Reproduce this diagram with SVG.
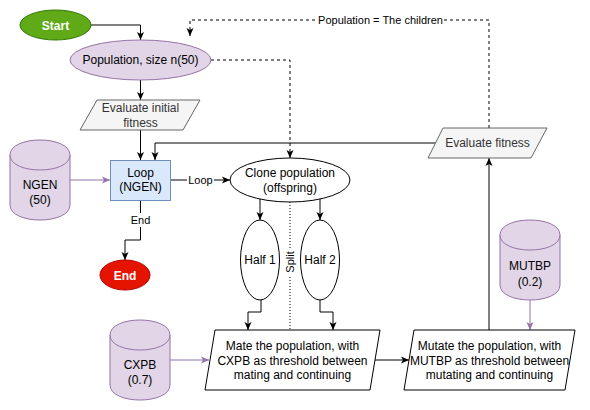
<svg xmlns="http://www.w3.org/2000/svg" width="590" height="410" viewBox="0 0 590 410">
<style>
text{font-family:"Liberation Sans",Arial,sans-serif;font-size:12px;fill:#000;text-anchor:middle}
.lbl{font-size:11px}
.gr{fill:#333}
.wb{fill:#fff;font-weight:bold}
.purp{fill:#e1d5e7;stroke:#9673a6;stroke-width:1}
.io{fill:#f5f5f5;stroke:#666;stroke-width:1}
.plain{fill:#fff;stroke:#000;stroke-width:1}
.e{fill:none;stroke:#000;stroke-width:1}
.ep{fill:none;stroke:#9673a6;stroke-width:1}
.dash{stroke-dasharray:3 3}
.dot{stroke-dasharray:1 2}
.bg{fill:#fff}
</style>
<defs>
<marker id="a" markerUnits="userSpaceOnUse" markerWidth="8" markerHeight="8" viewBox="0 0 8 8" refX="8" refY="4" orient="auto"><path d="M0,0.5 L8,4 L0,7.5 L2,4 Z" fill="#000"/></marker>
<marker id="ap" markerUnits="userSpaceOnUse" markerWidth="8" markerHeight="8" viewBox="0 0 8 8" refX="8" refY="4" orient="auto"><path d="M0,0.5 L8,4 L0,7.5 L2,4 Z" fill="#9673a6"/></marker>
</defs>
<g id="connectors">
<path class="e" d="M91,25 H140.5 V40" marker-end="url(#a)"/>
<path class="e" d="M140.5,80 V100" marker-end="url(#a)"/>
<path class="e" d="M140.5,130 V160" marker-end="url(#a)"/>
<path class="e" d="M436,143 H155 V160" marker-end="url(#a)"/>
<path class="ep" d="M70,180 H110" marker-end="url(#ap)"/>
<path class="e" d="M170,180 H230" marker-end="url(#a)"/>
<rect class="bg" x="187" y="173" width="27" height="14"/>
<text class="lbl" x="200.5" y="184">Loop</text>
<path class="e dash" d="M211,60 H290 V158" marker-end="url(#a)"/>
<path class="e" d="M140.5,200 V240 H125 V260" marker-end="url(#a)"/>
<rect class="bg" x="130" y="213" width="21" height="14"/>
<text class="lbl" x="140.5" y="224">End</text>
<path class="e" d="M260,199 V220" marker-end="url(#a)"/>
<path class="e" d="M320,199 V220" marker-end="url(#a)"/>
<path class="e dot" d="M290,202 V330"/>
<rect class="bg" x="283" y="248" width="14" height="28"/>
<text class="lbl" transform="translate(294,262) rotate(-90)" x="0" y="0">Split</text>
<path class="e" d="M261,300 V312 H248 V330" marker-end="url(#a)"/>
<path class="e" d="M320,300 V312 H333 V330" marker-end="url(#a)"/>
<path class="ep" d="M170,360 H209" marker-end="url(#ap)"/>
<path class="e" d="M375,360 H409" marker-end="url(#a)"/>
<path class="ep" d="M530,300 V330" marker-end="url(#ap)"/>
<path class="e" d="M489,330 V158" marker-end="url(#a)"/>
<path class="e dash" d="M489,128 V20 H190 V36" marker-end="url(#a)"/>
<rect class="bg" x="317" y="13" width="127" height="14"/>
<text class="lbl" x="380.5" y="24">Population = The children</text>
</g>
<g id="start">
<ellipse cx="55.5" cy="25" rx="35.5" ry="15" fill="#60a917" stroke="#2d7600"/>
<text class="wb" x="55.5" y="29.5">Start</text>
</g>
<g id="population">
<ellipse class="purp" cx="140.5" cy="60" rx="70.5" ry="20"/>
<text x="140.5" y="64">Population, size n(50)</text>
</g>
<g id="evalInit">
<polygon class="io" points="97,100 200,100 183,130 80,130"/>
<text class="gr" x="140.5" y="111.5">Evaluate initial</text>
<text class="gr" x="140.5" y="126.5">fitness</text>
</g>
<g id="ngen">
<path class="purp" d="M10,155 C10,135 70,135 70,155 L70,205 C70,225 10,225 10,205 Z"/>
<path class="purp" fill="none" d="M10,155 C10,175 70,175 70,155"/>
<text x="40" y="189">NGEN</text>
<text x="40" y="204">(50)</text>
</g>
<g id="loop">
<rect x="110.5" y="160.5" width="60" height="40" fill="#dae8fc" stroke="#6c8ebf"/>
<text x="140.5" y="177">Loop</text>
<text x="140.5" y="191">(NGEN)</text>
</g>
<g id="end">
<ellipse cx="125" cy="275" rx="25" ry="15" fill="#e51400" stroke="#b20000"/>
<text class="wb" x="125" y="279.5">End</text>
</g>
<g id="clone">
<ellipse class="plain" cx="290" cy="180" rx="60" ry="22"/>
<text x="290" y="177">Clone population</text>
<text x="290" y="192">(offspring)</text>
</g>
<g id="evalFit">
<polygon class="io" points="443,128 547,128 531,158 428,158"/>
<text class="gr" x="487.5" y="147">Evaluate fitness</text>
</g>
<g id="half1">
<ellipse class="plain" cx="260" cy="260" rx="19.5" ry="40"/>
<text x="260" y="264">Half 1</text>
</g>
<g id="half2">
<ellipse class="plain" cx="320" cy="260" rx="19.5" ry="40"/>
<text x="320" y="264">Half 2</text>
</g>
<g id="mutbp">
<path class="purp" d="M500,235 C500,215 560,215 560,235 L560,285 C560,305 500,305 500,285 Z"/>
<path class="purp" fill="none" d="M500,235 C500,255 560,255 560,235"/>
<text x="530" y="270">MUTBP</text>
<text x="530" y="286">(0.2)</text>
</g>
<g id="cxpb">
<path class="purp" d="M110,335 C110,315 170,315 170,335 L170,385 C170,405 110,405 110,385 Z"/>
<path class="purp" fill="none" d="M110,335 C110,355 170,355 170,335"/>
<text x="140" y="369">CXPB</text>
<text x="140" y="384">(0.7)</text>
</g>
<g id="mate">
<polygon class="plain" points="215,330 380,330 370,390 205,390"/>
<text x="292.5" y="350">Mate the population, with</text>
<text x="292.5" y="365">CXPB as threshold between</text>
<text x="292.5" y="379">mating and continuing</text>
</g>
<g id="mutate">
<polygon class="plain" points="414,330 575,330 565,390 404,390"/>
<text x="489.5" y="350">Mutate the population, with</text>
<text x="489.5" y="365">MUTBP as threshold between</text>
<text x="489.5" y="379">mutating and continuing</text>
</g>
</svg>
